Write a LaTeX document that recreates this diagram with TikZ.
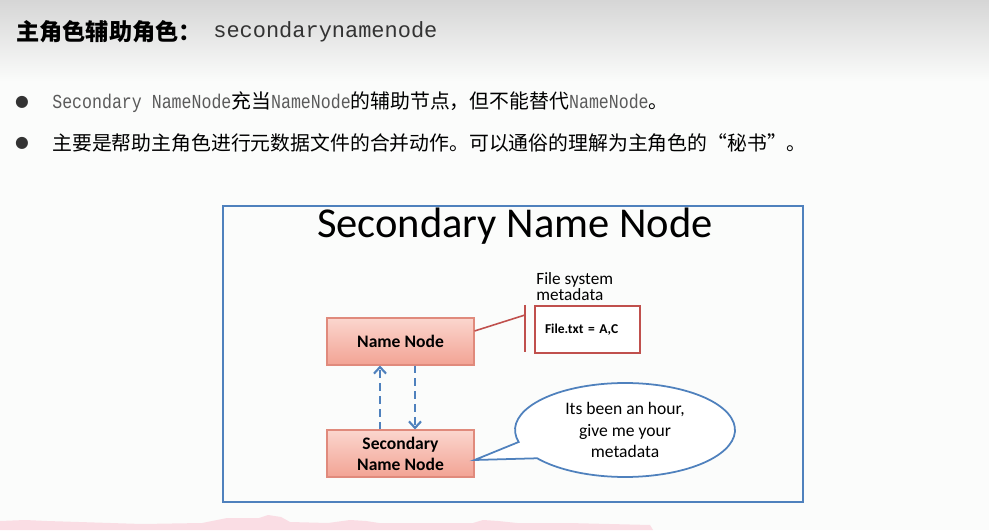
\documentclass[tikz,border=0pt]{standalone}
\usepackage{fontspec}
\setmainfont{Carlito}
\newfontfamily\cjk{Noto Sans CJK SC}
\newfontfamily\codefont{Liberation Mono}
\newfontfamily\narrowcode[FakeStretch=0.835]{Liberation Mono}
\newfontfamily\symfont{DejaVu Sans}
\usetikzlibrary{arrows.meta,positioning}

\definecolor{frameblue}{HTML}{4F81BD}
\definecolor{metared}{HTML}{C0504D}
\definecolor{nodetop}{HTML}{FBD6CE}
\definecolor{nodebot}{HTML}{F2A394}
\definecolor{nodeline}{HTML}{E08A7C}
\definecolor{latingray}{HTML}{5A5A5A}
\definecolor{codegray}{HTML}{333333}
\definecolor{pagebg}{HTML}{FBFCFB}
\definecolor{headgray}{HTML}{D6D6D6}
\definecolor{bandpink}{HTML}{FADDE4}

\newcommand{\latword}[1]{{\narrowcode\color{latingray}#1}}

\begin{document}
\begin{tikzpicture}[
    x=0.02cm, y=0.02cm,
    nodebox/.style={
        draw=nodeline,
        line width=0.6pt,
        top color=nodetop,
        bottom color=nodebot,
        minimum width=2.94cm,
        minimum height=0.94cm,
        inner sep=0pt,
        align=center,
        font=\bfseries\fontsize{10}{12}\selectfont
    },
    metabox/.style={
        draw=metared,
        line width=1.1pt,
        fill=white,
        minimum width=2.1cm,
        minimum height=0.94cm,
        text width=1.7cm,
        inner xsep=0.2cm,
        align=left,
        font=\bfseries\fontsize{7.7}{9}\selectfont
    },
    linetext/.style={
        anchor=west,
        inner sep=0pt,
        font=\cjk\fontsize{11.3}{13}\selectfont
    },
    link/.style={
        draw=frameblue,
        line width=1.2pt,
        dash pattern=on 4.5pt off 2.8pt,
        -{Straight Barb[length=1.3mm,width=2.4mm]}
    }
]
\useasboundingbox (0,0) rectangle (989,530);
\fill[pagebg] (0,0) rectangle (989,530);
\shade[top color=headgray, bottom color=pagebg] (0,530) rectangle (989,448);
\fill[bandpink] (0,9) -- (25,10) -- (47,9) -- (142,6) -- (202,7) -- (227,12)
    -- (259,12) -- (268,15) -- (281,13) -- (290,8) -- (328,7) -- (350,10)
    -- (366,9) -- (379,7) -- (473,7) -- (483,10) -- (498,9) -- (517,7)
    -- (568,7) -- (650,5) -- (653,0) -- (0,0) -- cycle;

% Heading and the two bullet lines.
\node[anchor=west, inner sep=0pt, font=\cjk\bfseries\fontsize{13.2}{15}\selectfont]
    (headcn) at (16,498) {主角色辅助角色：};
\node[anchor=west, inner sep=0pt, font=\codefont\fontsize{12.5}{14}\selectfont, text=codegray]
    (headen) at (213,498) {secondarynamenode};

\foreach \y [count=\i] in {428,387}{
    \node[font=\symfont\fontsize{9}{10}\selectfont, text=codegray] (dot\i) at (22,\y) {●};
}
\node[linetext] (lineone) at (52,428)
    {\latword{Secondary NameNode}充当\latword{NameNode}的辅助节点，但不能替代\latword{NameNode}。};
\node[linetext] (linetwo) at (52,387)
    {主要是帮助主角色进行元数据文件的合并动作。可以通俗的理解为主角色的“秘书”。};

\draw[frameblue, line width=0.8pt] (223,28) rectangle (803,324);
\node[font=\fontsize{24.2}{28}\selectfont] (title) at (515,304) {Secondary Name Node};

\node[nodebox] (nn) at (400.5,188.5) {Name Node};
\node[nodebox] (snn) at (400.5,76.5) {Secondary\\Name Node};

\draw[link] ([xshift=-0.41cm]snn.north) -- ([xshift=-0.41cm]nn.south);
\draw[link] ([xshift=0.29cm]nn.south) -- ([xshift=0.29cm]snn.north);

\node[metabox] (meta) at (587.5,200.5) {File.txt = A,C};
\node[anchor=north west, inner sep=0pt, align=left, font=\fontsize{9.8}{8.2}\selectfont]
    (metalabel) at (536,258) {File system\\metadata};

\coordinate (brtop) at (525,225);
\coordinate (brbot) at (525,178);
\coordinate (brjoin) at (525,215);
\draw[metared, line width=0.9pt] (brtop) -- (brbot);
\draw[metared, line width=0.9pt] ([yshift=0.21cm]nn.east) -- (brjoin);

\coordinate (bub) at (625,100);
\coordinate (tip) at ([yshift=-0.13cm]snn.east);
\draw[frameblue, line width=1pt, fill=white] (tip)
    -- ([shift={(194.8:2.2cm and 0.94cm)}]bub)
    arc[start angle=194.8, end angle=-143, x radius=2.2cm, y radius=0.94cm]
    -- cycle;
\node[align=center, font=\fontsize{10}{12}\selectfont] (bubtext) at (625,100)
    {Its been an hour,\\give me your\\metadata};
\end{tikzpicture}
\end{document}
